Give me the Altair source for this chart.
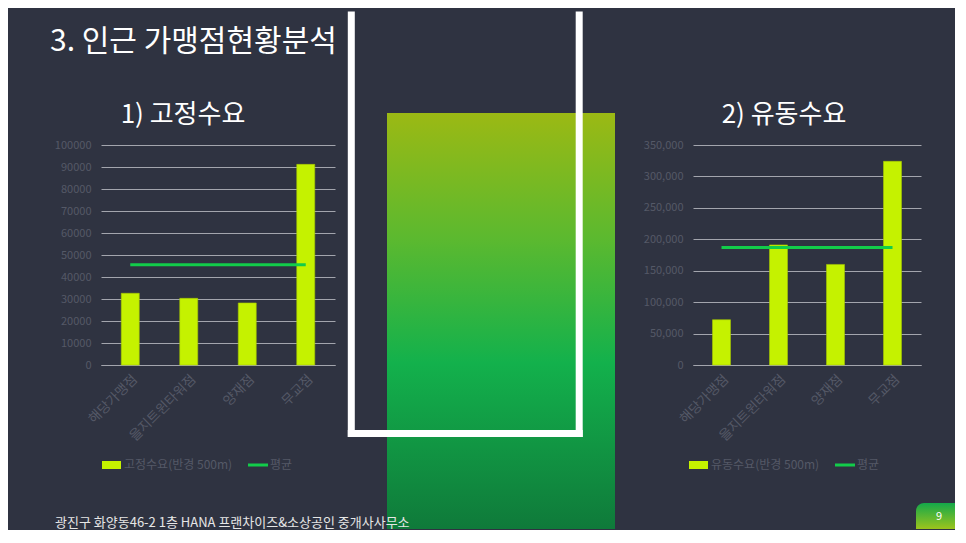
import altair as alt
import pandas as pd

# ---- data ----
stores = ["해당가맹점", "을지트윈타워점", "양재점", "무교점"]
fixed_demand = [32600, 30300, 28200, 91200]
flow_demand = [72000, 191000, 160000, 324000]
fixed_ticks = [0, 10000, 20000, 30000, 40000, 50000, 60000, 70000, 80000, 90000, 100000]
flow_ticks = [0, 50000, 100000, 150000, 200000, 250000, 300000, 350000]
page_title = "3. 인근 가맹점현황분석"
panel_titles = ["1) 고정수요", "2) 유동수요"]
legend_labels = [["고정수요(반경 500m)", "평균"], ["유동수요(반경 500m)", "평균"]]
footer_text = "광진구 화양동46-2 1층 HANA 프랜차이즈&소상공인 중개사사무소"
page_number = "9"

FONT = "Noto Sans CJK KR"
BG = "#2f3341"
BAR = "#c5f200"
MEAN = "#12cc4a"
GRID = "#a3a5ad"
LABEL = "#555967"
H = 220

one = pd.DataFrame({"k": [0]})


def value_text(text, x, y, size, color, align="left", baseline="middle"):
    return alt.Chart(one).mark_text(
        text=text, fontSize=size, color=color, font=FONT, align=align, baseline=baseline,
    ).encode(x=alt.value(x), y=alt.value(y))


def panel(values, ticks, fmt, labels, title, title_x, leg_x):
    df = pd.DataFrame({"store": stores, "value": values})
    x = alt.X(
        "store:N", sort=stores,
        scale=alt.Scale(paddingInner=0, paddingOuter=0),
        axis=alt.Axis(title=None, labelAngle=-45, labelAlign="right", labelBaseline="top",
                      labelColor=LABEL, labelFontSize=13.5, labelFont=FONT, ticks=False,
                      domainColor=GRID, labelPadding=7),
    )
    yaxis = alt.Axis(title=None, values=ticks, format=fmt, grid=True, gridColor=GRID,
                     gridWidth=1, domain=False, ticks=False, labelColor=LABEL,
                     labelFontSize=11, labelFont=FONT, labelPadding=10, labelOverlap=False)
    yscale = alt.Scale(domain=[ticks[0], ticks[-1]], nice=False)
    base = alt.Chart(df)
    bars = base.mark_bar(size=18, color=BAR, stroke="#a6c800", strokeWidth=0.6).encode(
        x=x, y=alt.Y("value:Q", scale=yscale, axis=yaxis))
    mean = base.transform_joinaggregate(avg="mean(value)").mark_line(
        color=MEAN, strokeWidth=3).encode(x=x, y=alt.Y("avg:Q", scale=yscale, axis=yaxis))
    leg_rect = alt.Chart(one).mark_rect(color=BAR).encode(
        x=alt.value(leg_x), x2=alt.value(leg_x + 19), y=alt.value(316), y2=alt.value(324))
    leg_t1 = value_text(labels[0], leg_x + 22, 320, 12, LABEL)
    leg_line = alt.Chart(one).mark_rule(color=MEAN, strokeWidth=3).encode(
        x=alt.value(leg_x + 146), x2=alt.value(leg_x + 166), y=alt.value(320))
    leg_t2 = value_text(labels[1], leg_x + 168, 320, 12, LABEL)
    sub = value_text(title, title_x, -30, 26, "white", align="center")
    return [bars, mean, leg_rect, leg_t1, leg_line, leg_t2, sub]


left_layers = panel(fixed_demand, fixed_ticks, "d", legend_labels[0], panel_titles[0], 82, 1)
left_layers += [value_text(page_title, -51, -103, 30, "white")]
left = alt.layer(*left_layers).properties(width=234, height=H)

MID_W = 358
grad = alt.Gradient(
    gradient="linear", x1=0, x2=0, y1=0, y2=1,
    stops=[
        alt.GradientStop(color="#9bb914", offset=0),
        alt.GradientStop(color="#5cb92f", offset=0.3),
        alt.GradientStop(color="#13b14c", offset=0.6),
        alt.GradientStop(color="#0f7a3a", offset=1),
    ],
)
mid_rect = alt.Chart(one).mark_rect(fill=grad).encode(
    x=alt.value(52), x2=alt.value(280), y=alt.value(-32), y2=alt.value(384))
frame_l = alt.Chart(one).mark_rule(color="white", strokeWidth=7, strokeCap="butt").encode(
    x=alt.value(16.3), y=alt.value(-133.5), y2=alt.value(292))
frame_r = alt.Chart(one).mark_rule(color="white", strokeWidth=7, strokeCap="butt").encode(
    x=alt.value(244.2), y=alt.value(-133.5), y2=alt.value(292))
frame_b = alt.Chart(one).mark_rule(color="white", strokeWidth=7, strokeCap="butt").encode(
    x=alt.value(12.8), x2=alt.value(247.7), y=alt.value(288.5))
footer = value_text(footer_text, -280, 378, 13, "#e6e6e6")
mid = alt.layer(mid_rect, frame_l, frame_r, frame_b, footer).properties(width=MID_W, height=H)

right_layers = panel(flow_demand, flow_ticks, ",d", legend_labels[1], panel_titles[1], 91, -4)
page_grad = alt.Gradient(
    gradient="linear", x1=0, x2=0, y1=0, y2=1,
    stops=[alt.GradientStop(color="#14a84a", offset=0), alt.GradientStop(color="#9cc41c", offset=1)],
)
right_layers += [
    alt.Chart(one).mark_rect(fill=page_grad, cornerRadiusTopLeft=8).encode(
        x=alt.value(223), x2=alt.value(262), y=alt.value(358), y2=alt.value(384)),
    value_text(page_number, 246, 372, 11, "white", align="center"),
]
right = alt.layer(*right_layers).properties(width=228, height=H)

chart = alt.hconcat(left, mid, right, spacing=0, bounds="flush").properties(
    background=BG,
    padding={"left": 42, "top": 0, "right": 0, "bottom": 0},
).configure_view(stroke=None)

chart.save("out.html", embed_options={"renderer": "svg", "actions": False})
